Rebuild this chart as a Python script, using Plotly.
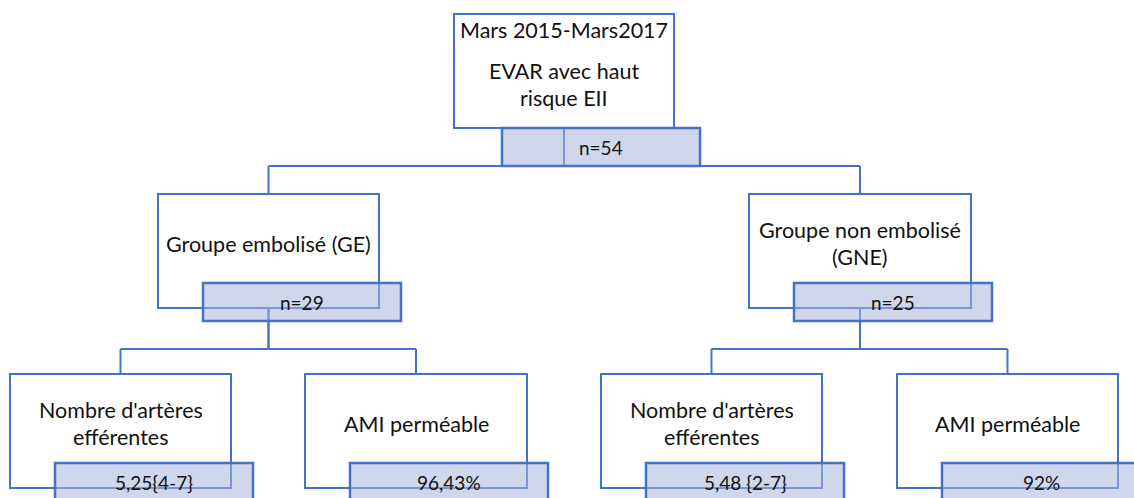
import plotly.graph_objects as go

# node texts (top-down, left to right); each entry is a list of text lines
node_titles = [
    ["Mars 2015-Mars2017", "", "EVAR avec haut", "risque EII"],
    ["Groupe embolisé (GE)"],
    ["Groupe non embolisé", "(GNE)"],
    ["Nombre d'artères", "efférentes"],
    ["AMI perméable"],
    ["Nombre d'artères", "efférentes"],
    ["AMI perméable"],
]
node_values = ["n=54", "n=29", "n=25", "5,25{4-7}", "96,43%", "5,48 {2-7}", "92%"]
parents = [None, 0, 0, 1, 1, 2, 2]

# layout of the boxes in pixels: (x0, x1, y0, y1)
boxes = [
    (454, 674, 14, 128),
    (158, 379, 194, 308),
    (749, 971, 194, 308),
    (10, 231, 374, 488),
    (305, 527, 374, 488),
    (601, 822, 374, 488),
    (897, 1118, 374, 488),
]
# label offset from box: (dx from left edge, overlap above box bottom)
label_off = [(48, 0), (45, 25), (45, 25), (45, 25), (45, 25), (45, 25), (45, 25)]
bus_y = [166, 349, 349]  # horizontal connector level below each parent
label_w, label_h = 198, 38
line_gap = 27

blue = "#4472C4"
fill = "rgba(170,183,222,0.55)"
txt = "#111111"

shapes = []
annotations = []

# connectors (drawn first, so they sit under the boxes)
for i, p in enumerate(parents):
    if p is None:
        continue
    px = (boxes[p][0] + boxes[p][1]) / 2
    cx = (boxes[i][0] + boxes[i][1]) / 2
    mid = bus_y[p]
    shapes.append(dict(type="line", x0=px, x1=px, y0=boxes[p][3], y1=mid,
                       line=dict(color=blue, width=2)))
    shapes.append(dict(type="line", x0=px, x1=cx, y0=mid, y1=mid,
                       line=dict(color=blue, width=2)))
    shapes.append(dict(type="line", x0=cx, x1=cx, y0=mid, y1=boxes[i][2],
                       line=dict(color=blue, width=2)))

for i, (x0, x1, y0, y1) in enumerate(boxes):
    shapes.append(dict(type="rect", x0=x0, x1=x1, y0=y0, y1=y1,
                       fillcolor="white", line=dict(color=blue, width=2)))
    dx, up = label_off[i]
    lx0 = x0 + dx
    ly0 = y1 - up
    shapes.append(dict(type="rect", x0=lx0, x1=lx0 + label_w, y0=ly0, y1=ly0 + label_h,
                       fillcolor=fill, line=dict(color=blue, width=2.5)))

    lines = node_titles[i]
    if i == 0:
        ys = [30, None, 71, 98]
    else:
        yc = (y0 + ly0) / 2 + 5
        ys = [yc + (k - (len(lines) - 1) / 2) * line_gap for k in range(len(lines))]
    for t, y in zip(lines, ys):
        if not t:
            continue
        annotations.append(dict(x=(x0 + x1) / 2, y=y, text=t, showarrow=False,
                                font=dict(size=21.5, color=txt, family="Lato")))
    annotations.append(dict(x=lx0 + label_w / 2, y=ly0 + label_h / 2, text=node_values[i],
                            showarrow=False, font=dict(size=19, color=txt, family="Lato")))

fig = go.Figure()
fig.update_layout(
    width=1134, height=498,
    margin=dict(l=0, r=0, t=0, b=0),
    plot_bgcolor="white", paper_bgcolor="white",
    xaxis=dict(range=[0, 1134], visible=False, fixedrange=True),
    yaxis=dict(range=[498, 0], visible=False, fixedrange=True),
    shapes=shapes, annotations=annotations, showlegend=False,
)

fig.write_html("out.html", config={"displayModeBar": False},
               post_script="document.body.style.margin='0px';")
